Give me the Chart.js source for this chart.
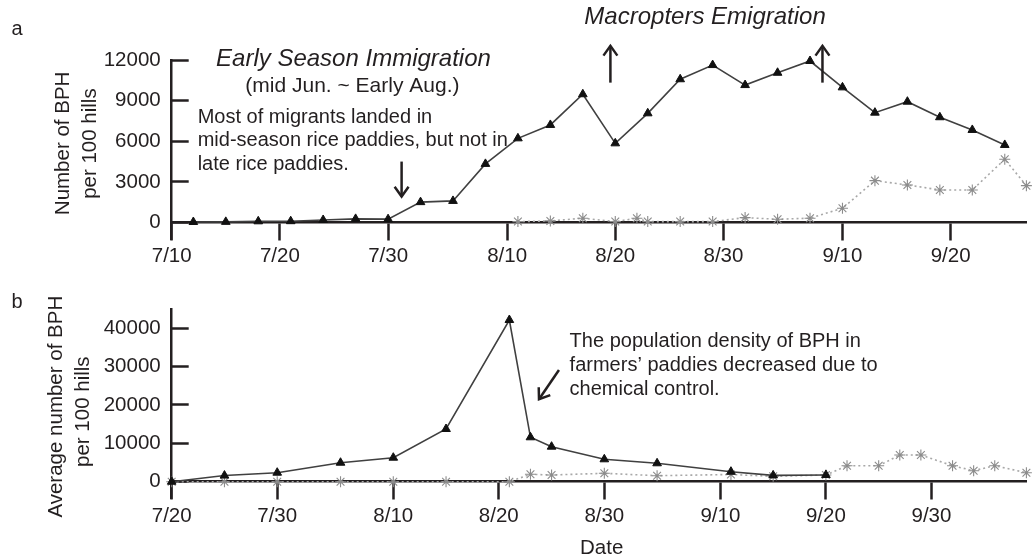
<!DOCTYPE html>
<html>
<head>
<meta charset="utf-8">
<script src="https://cdn.jsdelivr.net/npm/chart.js@4/dist/chart.umd.min.js"></script>
<style>
  html, body { margin: 0; padding: 0; background: #ffffff; }
  #wrap { position: relative; width: 1033px; height: 559px; overflow: hidden; background: #ffffff; }
  .panel { position: absolute; left: 0; }
  #pTop { top: 0; }
  #pBot { top: 280px; }
</style>
</head>
<body>
<div id="wrap">
  <div class="panel" id="pTop"><canvas id="cTop" width="1033" height="280"></canvas></div>
  <div class="panel" id="pBot"><canvas id="cBot" width="1033" height="279"></canvas></div>
</div>
<script>
// ---------- DATA (days counted from June 30: 7/1 = 1, 8/1 = 32, 9/1 = 63, 10/1 = 93) ----------
// Panel a
const topTickDays   = [10, 20, 30, 41, 51, 61, 72, 82];
const topTickLabels = ['7/10', '7/20', '7/30', '8/10', '8/20', '8/30', '9/10', '9/20'];
const topYTicks     = [0, 3000, 6000, 9000, 12000];

const topTriDays = [12, 15, 18, 21, 24, 27, 30, 33, 36, 39, 42, 45, 48, 51, 54, 57, 60, 63, 66, 69, 72, 75, 78, 81, 84, 87];
const topTriVals = [30, 40, 80, 90, 180, 260, 240, 1500, 1590, 4330, 6220, 7210, 9480, 5850, 8070, 10590, 11640, 10160, 11070, 11940, 9990, 8120, 8930, 7780, 6840, 5730];

const topStarDays = [42, 45, 48, 51, 53, 54, 57, 60, 63, 66, 69, 72, 75, 78, 81, 84, 87, 89];
const topStarVals = [60, 110, 310, 60, 310, 60, 60, 60, 355, 235, 310, 1050, 3090, 2770, 2400, 2400, 4670, 2720];

// Panel b
const botTickDays   = [20, 30, 41, 51, 61, 72, 82, 92];
const botTickLabels = ['7/20', '7/30', '8/10', '8/20', '8/30', '9/10', '9/20', '9/30'];
const botYTicks     = [0, 10000, 20000, 30000, 40000];

const botTriDays = [20, 25, 30, 36, 41, 46, 52, 54, 56, 61, 66, 73, 77, 82];
const botTriVals = [0, 1600, 2350, 4950, 6260, 13740, 42160, 11580, 9130, 5840, 4800, 2610, 1650, 1750];

const botStarDays = [20, 25, 30, 36, 41, 46, 52, 54, 56, 61, 66, 73, 77, 82, 84, 87, 89, 91, 94, 96, 98, 101];
const botStarVals = [0, 0, 0, 0, 0, 0, 0, 1930, 1750, 2190, 1565, 1880, 1400, 1750, 4170, 4170, 6960, 6960, 4170, 2870, 4170, 2350];

// ---------- STYLE ----------
const INK = '#231f20';
const FONT = '"Liberation Sans", Arial, Helvetica, sans-serif';
const AXIS_W = 2.5;

function pts(xs, ys) { return xs.map((x, i) => ({ x: x, y: ys[i] })); }

function notesPlugin(texts, arrows) {
  return {
    id: 'notes',
    afterDraw(chart) {
      const ctx = chart.ctx, xs = chart.scales.x, ys = chart.scales.y;
      ctx.save();
      ctx.fillStyle = INK;
      ctx.textBaseline = 'middle';
      texts.forEach(t => {
        const x = xs.getPixelForValue(t.x), y = ys.getPixelForValue(t.y);
        ctx.font = t.font;
        ctx.textAlign = t.align || 'left';
        if (t.rot) {
          ctx.save(); ctx.translate(x, y); ctx.rotate(-Math.PI / 2);
          ctx.fillText(t.text, 0, 0); ctx.restore();
        } else {
          ctx.fillText(t.text, x, y);
        }
      });
      ctx.strokeStyle = INK;
      ctx.lineWidth = 2.5;
      ctx.lineCap = 'butt';
      arrows.forEach(a => {
        const x1 = xs.getPixelForValue(a.x1), y1 = ys.getPixelForValue(a.y1);
        const x2 = xs.getPixelForValue(a.x2), y2 = ys.getPixelForValue(a.y2);
        const ang = Math.atan2(y2 - y1, x2 - x1);
        const hl = 12, ha = 0.62;
        ctx.beginPath();
        ctx.moveTo(x1, y1); ctx.lineTo(x2, y2);
        ctx.stroke();
        ctx.beginPath();
        ctx.moveTo(x2 - hl * Math.cos(ang - ha), y2 - hl * Math.sin(ang - ha));
        ctx.lineTo(x2, y2);
        ctx.lineTo(x2 - hl * Math.cos(ang + ha), y2 - hl * Math.sin(ang + ha));
        ctx.stroke();
      });
      ctx.restore();
    }
  };
}

function makeChart(canvasId, cfg) {
  const tickFont = { family: FONT, size: 20.5 };
  return new Chart(document.getElementById(canvasId), {
    type: 'line',
    data: {
      datasets: [
        {
          data: pts(cfg.triDays, cfg.triVals),
          borderColor: '#404040', borderWidth: 1.6,
          pointStyle: 'triangle', pointRadius: 5, pointBorderWidth: 1,
          pointBackgroundColor: '#111111', pointBorderColor: '#111111',
          fill: false, tension: 0, clip: false
        },
        {
          data: pts(cfg.starDays, cfg.starVals),
          borderColor: '#a8a8a8', borderWidth: 1.6, borderDash: [2, 3],
          pointStyle: 'star', pointRadius: 5.5, pointBorderWidth: 1.1,
          pointBorderColor: '#8c8c8c', pointBackgroundColor: '#8c8c8c',
          fill: false, tension: 0, clip: false
        }
      ]
    },
    options: {
      responsive: false, animation: false, devicePixelRatio: 1,
      layout: { padding: { top: cfg.padTop, right: cfg.padRight, left: 0, bottom: cfg.padBottom } },
      plugins: { legend: { display: false }, tooltip: { enabled: false } },
      scales: {
        x: {
          type: 'linear', position: { y: 0 }, min: cfg.xMin, max: cfg.xMax,
          afterBuildTicks: s => { s.ticks = cfg.tickDays.map(v => ({ value: v })); },
          afterFit: s => { s.paddingLeft = 0; s.paddingRight = 0; s.paddingTop = 0; s.paddingBottom = 0; },
          ticks: {
            autoSkip: false, maxRotation: 0, padding: 5, color: INK, font: tickFont,
            callback: v => cfg.tickLabels[cfg.tickDays.indexOf(v)]
          },
          grid: { drawOnChartArea: false, drawTicks: true, tickLength: 17, tickWidth: AXIS_W, tickColor: INK },
          border: { display: true, color: INK, width: AXIS_W }
        },
        y: {
          type: 'linear', position: 'left', min: cfg.yMin, max: cfg.yMax,
          afterBuildTicks: s => { s.ticks = cfg.yTicks.map(v => ({ value: v })); },
          afterFit: s => { s.width = 171.7; s.paddingTop = 0; s.paddingBottom = 0; },
          ticks: { padding: 28, color: INK, font: tickFont, callback: v => String(v) },
          grid: { drawOnChartArea: false, drawTicks: true, tickLength: -17, tickWidth: AXIS_W, tickColor: INK },
          border: { display: true, color: INK, width: AXIS_W }
        }
      }
    },
    plugins: [notesPlugin(cfg.texts, cfg.arrows)]
  });
}

const fTxt = '20px ' + FONT;
const fSub = '21px ' + FONT;
const fAx = '20.5px ' + FONT;
const fIt = 'italic 24px ' + FONT;

makeChart('cTop', {
  triDays: topTriDays, triVals: topTriVals, starDays: topStarDays, starVals: topStarVals,
  tickDays: topTickDays, tickLabels: topTickLabels, yTicks: topYTicks,
  xMin: 10, xMax: 89, yMin: -1250, yMax: 12000,
  padTop: 60.2, padRight: 4.2, padBottom: 40.7,
  texts: [
    { text: 'a', x: -4.3, y: 14250, font: '20px ' + FONT, align: 'center' },
    { text: 'Early Season Immigration', x: 26.8, y: 12100, font: fIt, align: 'center' },
    { text: '(mid Jun. ~ Early Aug.)', x: 26.7, y: 10110, font: fSub, align: 'center' },
    { text: 'Most of migrants landed in', x: 12.4, y: 7780, font: fTxt },
    { text: 'mid-season rice paddies, but not in', x: 12.4, y: 6040, font: fTxt },
    { text: 'late rice paddies.', x: 12.4, y: 4250, font: fTxt },
    { text: 'Macropters Emigration', x: 59.3, y: 15140, font: fIt, align: 'center' },
    { text: 'Number of BPH', x: -0.04, y: 5845, font: fAx, align: 'center', rot: true },
    { text: 'per 100 hills', x: 2.5, y: 5830, font: fAx, align: 'center', rot: true }
  ],
  arrows: [
    { x1: 31.25, y1: 4500, x2: 31.25, y2: 1910 },
    { x1: 50.55, y1: 10340, x2: 50.55, y2: 13060 },
    { x1: 70.15, y1: 10340, x2: 70.15, y2: 13060 }
  ]
});

makeChart('cBot', {
  triDays: botTriDays, triVals: botTriVals, starDays: botStarDays, starVals: botStarVals,
  tickDays: botTickDays, tickLabels: botTickLabels, yTicks: botYTicks,
  xMin: 20, xMax: 101, yMin: -4300, yMax: 45000,
  padTop: 29.1, padRight: 4.3, padBottom: 60.8,
  texts: [
    { text: 'b', x: 5.35, y: 46730, font: '20px ' + FONT, align: 'center' },
    { text: 'The population density of BPH in', x: 57.71, y: 36480, font: fTxt },
    { text: 'farmers\u2019 paddies decreased due to', x: 57.71, y: 30250, font: fTxt },
    { text: 'chemical control.', x: 57.71, y: 24090, font: fTxt },
    { text: 'Date', x: 60.75, y: -17290, font: fAx, align: 'center' },
    { text: 'Average number of BPH', x: 9.06, y: 19560, font: fAx, align: 'center', rot: true },
    { text: 'per 100 hills', x: 11.62, y: 18250, font: fAx, align: 'center', rot: true }
  ],
  arrows: [
    { x1: 56.7, y1: 29130, x2: 54.81, y2: 21490 }
  ]
});
</script>
</body>
</html>
